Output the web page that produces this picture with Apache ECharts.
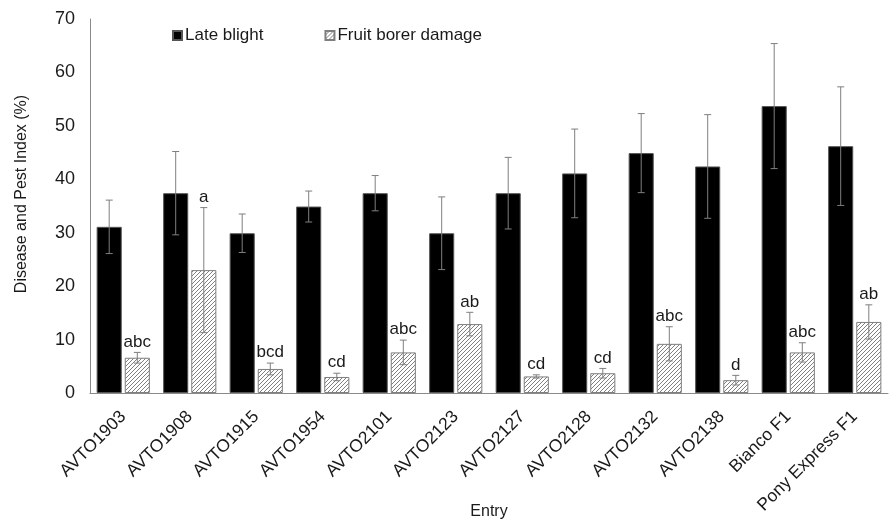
<!DOCTYPE html>
<html>
<head>
<meta charset="utf-8">
<script src="https://cdn.jsdelivr.net/npm/echarts@6/dist/echarts.min.js"></script>
<style>html,body{margin:0;padding:0;background:#fff}#c{width:894px;height:521px}</style>
</head>
<body>
<div id="c"></div>
<script>
const categories = ['AVTO1903','AVTO1908','AVTO1915','AVTO1954','AVTO2101','AVTO2123','AVTO2127','AVTO2128','AVTO2132','AVTO2138','Bianco F1','Pony Express F1'];
const lateBlight = [31.1, 37.4, 29.9, 34.9, 37.4, 29.9, 37.4, 41.1, 44.9, 42.4, 53.7, 46.2];
const lateBlightErr = [5.0, 7.8, 3.6, 2.9, 3.3, 6.8, 6.7, 8.3, 7.4, 9.7, 11.7, 11.1];
const fruitBorer = [6.6, 23.0, 4.5, 3.0, 7.6, 12.9, 3.1, 3.7, 9.2, 2.4, 7.6, 13.3];
const fruitBorerErr = [1.0, 11.7, 1.1, 0.7, 2.3, 2.2, 0.3, 0.9, 3.2, 0.9, 1.8, 3.2];
const letters = ['abc','a','bcd','cd','abc','ab','cd','cd','abc','d','abc','ab'];
const yTicks = [0, 10, 20, 30, 40, 50, 60, 70];

// hatch pattern
const pc = document.createElement('canvas');
pc.width = 4; pc.height = 4;
const pctx = pc.getContext('2d');
pctx.fillStyle = '#ffffff'; pctx.fillRect(0,0,4,4);
pctx.fillStyle = '#808080';
for (let x = 0; x < 4; x++) for (let y = 0; y < 4; y++) if ((x + y) % 4 === 3) pctx.fillRect(x, y, 1, 1);

const FONT = 'Liberation Sans, Arial, sans-serif';
const CAT_GAP = 0.2, BAR_GAP = 0.12;

function errSeries(vals, errs, idx, labels) {
  return {
    type: 'custom',
    name: idx === 0 ? 'errLB' : 'errFB',
    z: 5,
    silent: true,
    data: vals.map((v, i) => [i, v, errs[i]]),
    renderItem: function (params, api) {
      const i = api.value(0), v = api.value(1), e = api.value(2);
      const band = api.size([1, 0])[0];
      const avail = band * (1 - CAT_GAP);
      const w = avail / (2 + BAR_GAP);
      const off = (idx === 0 ? -1 : 1) * (w / 2 + w * BAR_GAP / 2);
      const c = api.coord([i, v]);
      const top = api.coord([i, v + e]);
      const bot = api.coord([i, v - e]);
      const x = c[0] + off;
      const cap = 3.5;
      const st = { stroke: '#7f7f7f', lineWidth: 1 };
      const children = [
        { type: 'line', shape: { x1: x, y1: top[1], x2: x, y2: bot[1] }, style: st },
        { type: 'line', shape: { x1: x - cap, y1: top[1], x2: x + cap, y2: top[1] }, style: st },
        { type: 'line', shape: { x1: x - cap, y1: bot[1], x2: x + cap, y2: bot[1] }, style: st }
      ];
      if (labels) {
        children.push({ type: 'text', style: { text: labels[i], x: x, y: top[1] - 2, align: 'center', verticalAlign: 'bottom', font: '17px ' + FONT, fill: '#1a1a1a' } });
      }
      return { type: 'group', children: children };
    }
  };
}

const chart = echarts.init(document.getElementById('c'), null, { renderer: 'canvas' });
chart.setOption({
  animation: false,
  backgroundColor: '#fff',
  textStyle: { fontFamily: FONT },
  grid: { left: 90, right: 6, top: 19, bottom: 128, containLabel: false, outerBoundsMode: 'none' },
  legend: {
    left: 167, top: 22,
    itemWidth: 9, itemHeight: 9, itemGap: 61,
    icon: 'rect',
    textStyle: { fontSize: 17, color: '#1a1a1a', fontFamily: FONT, padding: [0, 0, 0, -2] },
    data: ['Late blight', 'Fruit borer damage']
  },
  xAxis: {
    type: 'category',
    data: categories,
    name: 'Entry',
    nameLocation: 'middle',
    nameGap: 119,
    nameMoveOverlap: false,
    nameTextStyle: { fontSize: 16, color: '#1a1a1a', fontFamily: FONT, verticalAlign: 'middle' },
    axisLine: { lineStyle: { color: '#8a8a8a', width: 1 } },
    axisTick: { show: false },
    axisLabel: { rotate: 45, fontSize: 17.5, color: '#1a1a1a', fontFamily: FONT, margin: 21, interval: 0 }
  },
  yAxis: {
    type: 'value',
    min: yTicks[0], max: yTicks[yTicks.length - 1], interval: 10,
    name: 'Disease and Pest Index (%)',
    nameLocation: 'middle',
    nameGap: 60,
    nameMoveOverlap: false,
    nameTextStyle: { fontSize: 16, color: '#1a1a1a', fontFamily: FONT, padding: [0, 0, 0, 24] },
    axisLine: { show: true, lineStyle: { color: '#8a8a8a', width: 1 } },
    axisTick: { show: false },
    splitLine: { show: false },
    axisLabel: { fontSize: 18, color: '#1a1a1a', fontFamily: FONT, margin: 15 }
  },
  series: [
    {
      name: 'Late blight', type: 'bar', data: lateBlight,
      barCategoryGap: (CAT_GAP * 100) + '%', barGap: (BAR_GAP * 100) + '%',
      itemStyle: { color: '#000', borderColor: '#555', borderWidth: 1 }
    },
    {
      name: 'Fruit borer damage', type: 'bar', data: fruitBorer,
      barCategoryGap: (CAT_GAP * 100) + '%', barGap: (BAR_GAP * 100) + '%',
      itemStyle: { color: { image: pc, repeat: 'repeat' }, borderColor: '#7f7f7f', borderWidth: 1 }
    },
    errSeries(lateBlight, lateBlightErr, 0, null),
    errSeries(fruitBorer, fruitBorerErr, 1, letters)
  ]
});
</script>
</body>
</html>
